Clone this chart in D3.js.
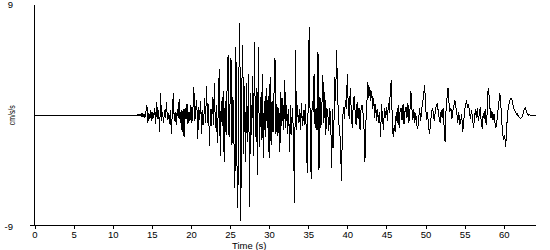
<!DOCTYPE html>
<html>
<head>
<meta charset="utf-8">
<script src="https://cdn.jsdelivr.net/npm/d3@7"></script>
<style>
  html, body { margin: 0; padding: 0; background: #fff; }
  svg { display: block; }
  text { font-family: "Liberation Sans", Arial, sans-serif; fill: #000; }
</style>
</head>
<body>
<svg id="chart" width="550" height="250"></svg>
<script>
// ---- data ----
const timeDomain = [0, 64.125];
const accelDomain = [-9, 9];
const xTickValues = [0, 5, 10, 15, 20, 25, 30, 35, 40, 45, 50, 55, 60];
const yLabelValues = [9, -9];
const xTitle = "Time (s)";
const yTitle = "cm/s/s";

// quiet pre-event record
const quietTimes = [0];
const quietAccel = [0];

// sampled record from 13 s, one value every 0.125 s
const sampleStart = 13;
const sampleInterval = 0.125;
const accel = [
  0, 0, 0.05, -0.05, 0.1, -0.1, 0.15, -0.1,
  0.1, -0.2, 0.3, 0.8, -0.6, 0.2, -0.3, 0.4,
  -0.5, 0.3, -0.2, 0.6, -0.7, 1.1, -0.3, 0.4,
  -1.4, 1.8, -0.5, 0.3, -0.6, 0.4, -0.2, 1.1,
  -0.4, 0.2, -0.7, 0.4, -1.5, 0.3, 1.8, -0.5,
  0.3, -0.8, 0.5, -0.2, 1.3, -0.6, 0.4, -1.4,
  0.5, -1.8, 0.6, -0.3, 0.9, -0.7, 0.3, -0.5,
  0.8, -0.6, 0.4, 2.3, -0.5, 0.6, 1.2, -1.9,
  0.7, -0.4, 1.2, -1.5, 0.4, -0.8, 1.4, -0.6,
  2.4, -0.6, 0.9, -2.5, 0.5, -0.9, 1.5, -0.8,
  2.6, -1.0, 0.8, -2.3, 0.6, 3.8, -3.3, 1.2,
  -0.9, 2.0, -3.8, 1.2, -1.6, 2.2, 4.9, -1.8,
  1.0, 4.7, -2.4, 1.5, -2.0, -5.9, 5.6, -3.5,
  -7.6, 3.0, 7.5, -8.6, 2.0, 5.7, -3.2, 2.4,
  -3.8, 2.6, -2.2, 3.4, -7.5, 1.8, -1.6, 3.2,
  -3.3, 6.0, -1.8, 2.2, -4.9, 5.6, -2.6, 1.5,
  -2.0, 3.4, -3.5, 1.2, -1.8, 2.2, -1.0, 1.6,
  -3.5, 3.1, -2.4, 1.2, -1.4, 1.8, 4.7, -1.5,
  0.9, -1.7, 0.6, -3.0, 1.9, -0.9, 1.4, -1.2,
  2.9, -1.0, 0.8, -1.5, 0.5, -3.0, 0.8, -1.6,
  0.6, -2.2, -7.2, 5.3, -1.2, 0.8, -0.6, 0.5,
  -1.2, 1.0, -0.9, 0.4, -0.8, 0.9, -1.3, -4.7,
  1.5, 7.2, -0.8, -5.2, 1.2, 0.3, 3.4, -1.0,
  0.6, -1.2, 5.2, -4.5, 1.5, -1.0, 0.8, 3.3,
  -0.6, 1.9, -1.6, 0.6, 0.2, -1.3, 0.6, -0.4,
  -4.3, 0.5, -2.7, 3.1, 1.2, 5.3, 2.0, -0.4,
  -1.2, -2.2, -5.4, -0.8, 0.7, -0.3, 1.2, 0.5,
  3.4, 0.6, -0.3, 2.2, 0.4, -1.0, 0.7, 1.6,
  0.2, -0.8, 1.1, -0.3, 0.6, -1.2, 0.4, 0.8,
  0.2, -0.9, -3.8, -0.6, 1.0, 2.7, 1.4, 2.3,
  1.2, 2.0, 0.5, 1.4, -0.2, 0.9, -0.5, 0.5,
  -0.6, 0.3, -1.8, 0.9, -0.3, -1.2, 0.6, -0.2,
  0.7, -0.5, 1.0, 0.2, 2.1, 2.9, -0.6, -1.8,
  -0.8, -1.4, 0.3, -0.6, 0.8, -1.0, 0.4, 0.6,
  -0.4, 0.9, -0.7, 0.3, 0.7, -0.2, 1.0, -0.6,
  0.3, 2.0, 0.6, -0.4, 0.5, -0.6, 0.2, -0.8,
  -1.1, -0.3, 0.6, -0.5, 0.4, 1.0, 1.6, 2.5,
  1.0, -0.4, 0.3, -0.8, -1.5, -0.9, 0.2, 0.6,
  0.2, -0.5, 0.4, 0.8, 1.0, 0.3, -0.3, -0.6,
  0.4, -0.2, 0.6, -0.9, -2.2, 0.5, 1.4, 2.2,
  1.0, 0.3, 0.6, -0.3, 0.4, 0.8, 1.2, 0.7,
  0.2, -0.6, 0.3, -0.8, -0.5, 0.1, -1.4, -0.6,
  0.4, 0.8, 1.2, 0.6, 0.9, 0.2, -0.3, 0.4,
  -0.2, -1.0, -0.4, 0.5, -0.2, 0.6, -0.5, 0.1,
  0.7, -0.6, -1.1, 0.2, -0.3, 0.5, -0.8, 0.1,
  2.2, 1.6, 0.5, -0.2, 0.3, -0.4, 0.1, -0.6,
  -1.0, -0.5, 0.3, 1.0, 1.8, 0.9, -0.5, -1.6,
  -2.0, -1.6, -2.6, -1.0, 0.2, 0.8, 1.1, 1.4,
  1.4, 1.1, 0.6, 0.4, 0.3, 0.05, 0.1, -0.1,
  -0.2, -0.25, -0.2, -0.1, 0.2, 0.5, 0.6, 0.35,
  0.1, 0.0, 0.05, 0.0, 0.0, 0.0, 0.0, 0.0,
  0.0, 0.0
];

// ---- build series ----
const series = quietTimes.map((t, i) => ({ t, v: quietAccel[i] }))
  .concat(accel.map((v, i) => ({ t: sampleStart + i * sampleInterval, v })));

// ---- layout ----
const svg = d3.select("#chart");
const x = d3.scaleLinear().domain(timeDomain).range([34.5, 536]);
const y = d3.scaleLinear().domain(accelDomain).range([225.5, 5]);

// waveform
svg.append("path")
  .datum(series)
  .attr("fill", "none")
  .attr("stroke", "#000")
  .attr("stroke-width", 1)
  .attr("shape-rendering", "crispEdges")
  .attr("d", d3.line().x(d => x(d.t)).y(d => y(d.v)));

// x axis
const xAxis = svg.append("g")
  .attr("transform", `translate(0,${y(accelDomain[0])})`)
  .call(d3.axisBottom(x).tickValues(xTickValues).tickSize(3).tickSizeOuter(0).tickPadding(3));
xAxis.select(".domain")
  .attr("d", `M${x(timeDomain[0]) - 5},0H${x(timeDomain[1])}`)
  .attr("stroke", "#000").attr("shape-rendering", "crispEdges");
xAxis.selectAll(".tick line").attr("stroke", "#000").attr("shape-rendering", "crispEdges");
xAxis.selectAll(".tick text")
  .style("font-family", "'Liberation Sans', Arial, sans-serif")
  .style("font-size", "9.5px").attr("fill", "#000");

// y axis line (no ticks)
svg.append("line")
  .attr("x1", x(timeDomain[0])).attr("x2", x(timeDomain[0]))
  .attr("y1", y(accelDomain[1])).attr("y2", y(accelDomain[0]))
  .attr("stroke", "#000").attr("shape-rendering", "crispEdges");

// y extreme labels
svg.selectAll(".ylab")
  .data(yLabelValues)
  .enter().append("text")
  .attr("class", "ylab")
  .attr("x", 13)
  .attr("y", d => y(d) + (d > 0 ? 3 : 4))
  .attr("text-anchor", "end")
  .style("font-size", "9.5px")
  .text(d => d);

// axis titles
svg.append("text")
  .attr("x", (x(timeDomain[0]) + x(timeDomain[1])) / 2 - 36)
  .attr("y", 249)
  .attr("text-anchor", "middle")
  .style("font-size", "9.5px")
  .text(xTitle);

svg.append("text")
  .attr("transform", `translate(15,${y(0)}) rotate(-90)`)
  .attr("text-anchor", "middle")
  .attr("textLength", 20)
  .attr("lengthAdjust", "spacingAndGlyphs")
  .style("font-size", "9px")
  .text(yTitle);
</script>
</body>
</html>
